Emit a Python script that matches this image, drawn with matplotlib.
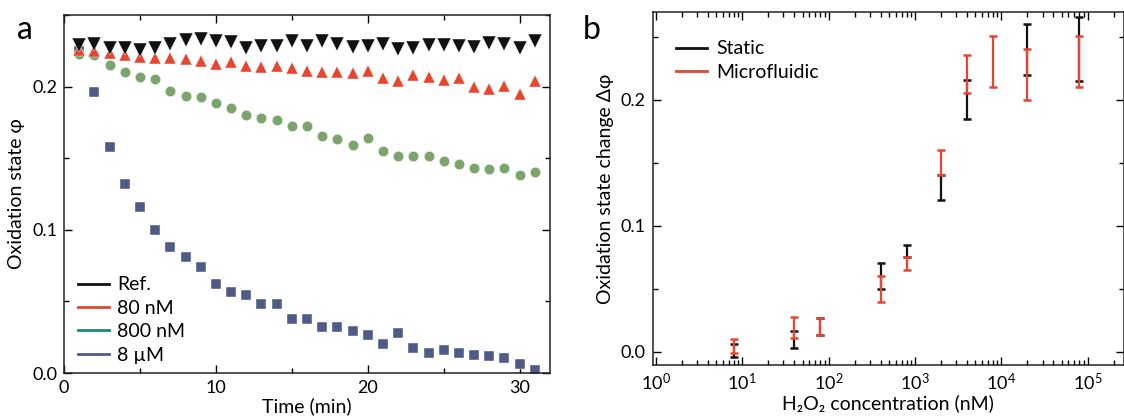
import matplotlib
matplotlib.use("Agg")
import matplotlib.pyplot as plt
from matplotlib.lines import Line2D
from matplotlib.ticker import MultipleLocator, LogLocator, NullFormatter, FormatStrFormatter

plt.rcParams['font.family'] = ['Lato', 'DejaVu Sans']
plt.rcParams['mathtext.fontset'] = 'custom'
plt.rcParams['mathtext.rm'] = 'Lato'

# ---------------- Panel a data ----------------
time_min = list(range(1, 32))
ref_phi = [0.229, 0.2299, 0.2268, 0.2268, 0.2259, 0.2268, 0.2299, 0.2322, 0.2329, 0.2315,
           0.231, 0.227, 0.2283, 0.2287, 0.2317, 0.2283, 0.2317, 0.2297, 0.2276, 0.2283,
           0.2299, 0.2264, 0.2268, 0.229, 0.229, 0.2287, 0.2276, 0.2306, 0.2299, 0.2268, 0.2317]
nm80_phi = [0.2259, 0.2247, 0.2233, 0.2222, 0.2205, 0.2201, 0.2201, 0.2194, 0.2178, 0.2159,
            0.2171, 0.2143, 0.2136, 0.2143, 0.2131, 0.2112, 0.2105, 0.2105, 0.2096, 0.2112,
            0.2059, 0.2038, 0.2084, 0.2066, 0.2047, 0.2059, 0.1996, 0.1984, 0.2003, 0.1949, 0.2042]
nm800_phi = [0.2229, 0.2224, 0.2152, 0.2105, 0.207, 0.2054, 0.1972, 0.1933, 0.1926, 0.1886,
             0.1849, 0.1804, 0.1781, 0.1769, 0.1727, 0.1723, 0.1657, 0.1634, 0.1594, 0.1639,
             0.1552, 0.1517, 0.1517, 0.1517, 0.1478, 0.1459, 0.1431, 0.1424, 0.1429, 0.1383, 0.1401]
um8_phi = [0.225, 0.1961, 0.158, 0.132, 0.1157, 0.1, 0.0881, 0.0807, 0.0741, 0.0625,
           0.0569, 0.0545, 0.048, 0.048, 0.038, 0.0376, 0.0322, 0.0322, 0.0296, 0.0264,
           0.0201, 0.0276, 0.0178, 0.0138, 0.0161, 0.0143, 0.0124, 0.0119, 0.0103, 0.0066, 0.0021]
legend_a = ["Ref.", "80 nM", "800 nM", "8 µM"]

# ---------------- Panel b data ----------------
static_conc = [8, 40, 80, 400, 800, 2000, 4000, 20000, 80000]
static_mean = [0.0008, 0.0096, 0.020, 0.060, 0.080, 0.1306, 0.2002, 0.240, 0.2405]
static_err = [0.0053, 0.0069, 0.007, 0.0103, 0.005, 0.010, 0.0152, 0.020, 0.0253]
micro_conc = [8, 40, 80, 400, 800, 2000, 4000, 8000, 20000, 80000]
micro_mean = [0.0043, 0.0192, 0.020, 0.050, 0.070, 0.1504, 0.2204, 0.2303, 0.220, 0.2303]
micro_err = [0.0055, 0.0086, 0.0066, 0.0103, 0.005, 0.0099, 0.015, 0.0201, 0.020, 0.0201]
legend_b = ["Static", "Microfluidic"]

BLACK = "#111111"
RED = "#e8452f"
GREEN = "#7ba56c"
BLUE = "#4e5a87"
TEAL = "#1b8a77"
FS_LAB = 14
FS_TICK = 13
FS_LEG = 14

fig = plt.figure(figsize=(11.24, 4.18), dpi=100)

# ---------- panel a ----------
axa = fig.add_axes([64/1124, 1-373/418, (550-64)/1124, (373-15)/418])
axa.plot(time_min, um8_phi, ls='none', marker='s', ms=6.8, color=BLUE, mec='white', mew=0.3)
axa.plot(time_min, nm800_phi, ls='none', marker='o', ms=7.5, color=GREEN, mec='white', mew=0.3)
axa.plot(time_min, nm80_phi, ls='none', marker='^', ms=9, color=RED, mec='white', mew=0.3)
axa.plot(time_min, ref_phi, ls='none', marker='v', ms=9.5, color=BLACK, mec='white', mew=0.3)
axa.set_xlim(0, 32)
axa.set_ylim(0, 0.25)
axa.xaxis.set_major_locator(MultipleLocator(10))
axa.xaxis.set_minor_locator(MultipleLocator(5))
axa.yaxis.set_major_locator(MultipleLocator(0.1))
axa.yaxis.set_minor_locator(MultipleLocator(0.05))
axa.yaxis.set_major_formatter(FormatStrFormatter('%.1f'))
axa.set_xlabel("Time (min)", fontsize=FS_LAB, labelpad=1)
axa.set_ylabel("Oxidation state φ", fontsize=FS_LAB, labelpad=5)
handles_a = [Line2D([], [], color=c, lw=2) for c in [BLACK, RED, TEAL, BLUE]]
axa.legend(handles_a, legend_a, loc='lower left', bbox_to_anchor=(0.0, -0.012), frameon=False,
           fontsize=FS_LEG, handlelength=1.6, handletextpad=0.45, labelspacing=0.33,
           borderaxespad=0.4, borderpad=0.3)
fig.text(17/1124, 1-30/418, "a", fontsize=23, va='center', ha='left')

# ---------- panel b ----------
axb = fig.add_axes([652.7/1124, 1-365/418, (1123.5-652.7)/1124, (365-11.7)/418])
axb.errorbar(static_conc, static_mean, yerr=static_err, ls='none', color=BLACK, elinewidth=1.6,
             capsize=3, capthick=1.8)
axb.errorbar(micro_conc, micro_mean, yerr=micro_err, ls='none', color=RED, elinewidth=1.6,
             capsize=3, capthick=1.8)
axb.set_xscale('log')
axb.set_xlim(0.92, 2.6e5)
axb.set_ylim(-0.0105, 0.27)
axb.xaxis.set_major_locator(LogLocator(base=10, numticks=12))
axb.xaxis.set_minor_locator(LogLocator(base=10, subs=range(2, 10), numticks=12))
axb.xaxis.set_minor_formatter(NullFormatter())
axb.yaxis.set_major_locator(MultipleLocator(0.1))
axb.yaxis.set_minor_locator(MultipleLocator(0.05))
axb.yaxis.set_major_formatter(FormatStrFormatter('%.1f'))
axb.set_xlabel("H₂O₂ concentration (nM)", fontsize=FS_LAB, labelpad=1)
axb.set_ylabel("Oxidation state change Δφ", fontsize=FS_LAB, labelpad=5)
handles_b = [Line2D([], [], color=c, lw=2) for c in [BLACK, RED]]
axb.legend(handles_b, legend_b, loc='upper left', bbox_to_anchor=(0.0, 0.985), frameon=False,
           fontsize=FS_LEG, handlelength=1.6, handletextpad=0.45, labelspacing=0.33,
           borderaxespad=0.8)
fig.text(583/1124, 1-30/418, "b", fontsize=23, va='center', ha='left')

for ax in (axa, axb):
    ax.tick_params(which='both', direction='in', top=True, right=True, labelsize=FS_TICK, width=1.0)
    ax.tick_params(which='major', length=6, pad=5)
    ax.tick_params(which='minor', length=3.5)
    for s in ax.spines.values():
        s.set_linewidth(1.1)
        s.set_color('#222222')

fig.savefig("out.png", dpi=100)
